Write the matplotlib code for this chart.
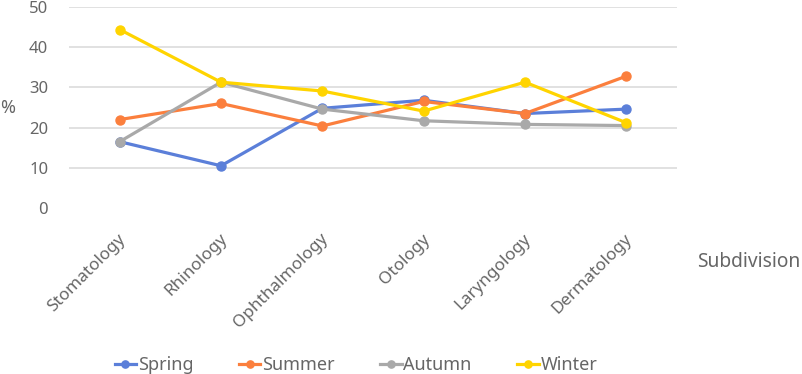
import numpy as np
import matplotlib.pyplot as plt
from matplotlib.transforms import ScaledTranslation

plt.rcParams['font.family'] = ['Noto Sans', 'DejaVu Sans']

categories = ['Stomatology', 'Rhinology', 'Ophthalmology', 'Otology', 'Laryngology', 'Dermatology']
spring = [16.5, 10.5, 24.8, 26.8, 23.5, 24.6]
summer = [22.0, 26.0, 20.4, 26.5, 23.5, 32.8]
autumn = [16.5, 31.3, 24.6, 21.7, 20.8, 20.5]
winter = [44.4, 31.3, 29.1, 24.1, 31.3, 21.2]
seasons = ['Spring', 'Summer', 'Autumn', 'Winter']
colors = ['#5b7fd9', '#fb7f3d', '#a9a9a9', '#ffd400']
yticks = [0, 10, 20, 30, 40, 50]

txt = '#666666'
fig = plt.figure(figsize=(8.03, 3.74), dpi=100)
ax = fig.add_axes([69/803, 1-208/374, 608/803, 201/374])

x = np.arange(len(categories))
for name, vals, c in zip(seasons, [spring, summer, autumn, winter], colors):
    ax.plot(x, vals, color=c, lw=2.3, marker='o', ms=6.5, label=name, zorder=3)

ax.set_xlim(-0.5, len(categories)-0.5)
ax.set_ylim(0, 50)
ax.set_yticks(yticks)
# gridlines (no line at 0 in the original)
for v in yticks[1:]:
    ax.axhline(v, color='#d9d9d9', lw=1.1, zorder=1)
for s in ax.spines.values():
    s.set_visible(False)
ax.tick_params(length=0, labelsize=12, labelcolor=txt)
ax.tick_params(axis='y', pad=15)
ax.set_xticks(x)
ax.set_xticklabels(categories, rotation=45, ha='right', va='top', rotation_mode='anchor', fontsize=12.3)
for lab in ax.get_xticklabels():
    lab.set_transform(lab.get_transform() + ScaledTranslation(-0.02, -0.18, fig.dpi_scale_trans))

fig.text(8/803, 1-108/374, '%', fontsize=13, color=txt, ha='center', va='center')
fig.text(749/803, 1-262/374, 'Subdivision', fontsize=13.8, color=txt, ha='center', va='center')

fig.legend(loc='center', bbox_to_anchor=(356/803, 1-365/374), ncol=4, frameon=False,
           fontsize=13, labelcolor=txt, handlelength=1.2, handletextpad=0.1,
           columnspacing=2.5, markerscale=0.8)

fig.savefig('out.png', dpi=100)
